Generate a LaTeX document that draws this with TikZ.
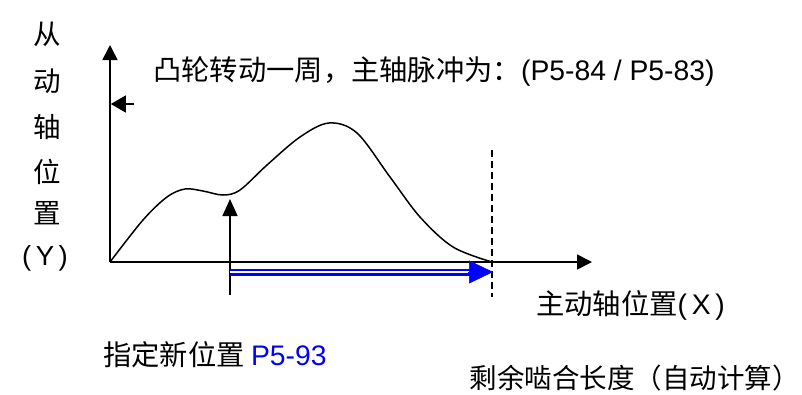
\documentclass[tikz,border=0pt]{standalone}
\usepackage{fontspec}
\setmainfont{Noto Sans CJK SC}
\newfontfamily\latin{Liberation Sans}
\usepackage{tikz}
\usetikzlibrary{arrows.meta,positioning}
\tikzset{
  axis/.style={
    line width=1.6pt,
    -{Triangle[length=15pt,width=15pt]}
  },
  cam/.style={
    line width=1.5pt,
    line join=round
  },
  bluedouble/.style={
    draw=blue,
    double=white,
    double distance=2.6pt,
    line width=2.2pt
  },
  endline/.style={
    line width=1.5pt,
    dash pattern=on 7pt off 4pt
  },
  txt/.style={
    anchor=west,
    inner sep=0pt,
    font=\fontsize{28.3}{30}\selectfont
  },
  vtxt/.style={
    inner sep=0pt,
    font=\fontsize{27.5}{30}\selectfont
  }
}

\begin{document}
\begin{tikzpicture}[x=1pt,y=-1pt]
    \useasboundingbox (0,0) rectangle (802,394);
    % axes
    \coordinate (O) at (110,262);
    \coordinate (ytop) at (110,45);
    \coordinate (xend) at (592,262);
    \draw[axis] (O) -- (ytop);
    \draw[axis] (O) -- (xend);
    % small pointer on the Y axis
    \coordinate (ptail) at (134,104);
    \coordinate (ptip) at (110.8,104);
    \draw[line width=1.5pt,-{Triangle[length=15pt,width=17pt]}] (ptail) -- (ptip);
    % cam curve
    \draw[cam] plot[smooth,tension=0.55] coordinates {(110,262) (143,220) (167,197) (185,189) (203,191) (223,195) (240,190) (267,165) (300,137) (329,123) (357,133) (390,177) (420,217) (453,247) (492,262)};
    % end of engagement
    \coordinate (dtop) at (492,150);
    \coordinate (dbot) at (492,297);
    \draw[endline] (dtop) -- (dbot);
    % new position
    \coordinate (nbot) at (230,295);
    \coordinate (ntip) at (230,199);
    \draw[line width=1.5pt,-{Triangle[length=17pt,width=15pt]}] (nbot) -- (ntip);
    % remaining length
    \coordinate (bstart) at (230,272);
    \coordinate (bbase) at (471,272);
    \coordinate (bend) at (493,272);
    \draw[bluedouble] (bstart) -- (bbase);
    \draw[blue,line width=0.5pt,-{Triangle[length=24pt,width=23pt]}] (bbase) ++(-3,0) -- (bend);
    % texts
    \foreach \ch/\y [count=\i] in {从/34,动/81,轴/127,位/172,置/213}{
    \node[vtxt] (ylab\i) at (47,\y) {\ch};}
    \node[vtxt] (ylab6) at (45,258) {\latin(\,Y\,)};
    \node[txt] (title) at (153,72) {凸轮转动一周，主轴脉冲为：{\latin(P5-84 / P5-83)}};
    \node[txt] (xlab) at (536,305) {主动轴位置{\latin(\,X\,)}};
    \node[txt] (newpos) at (103,355) {指定新位置 \textcolor{blue}{\latin P5-93}};
    \node[txt,anchor=east,font=\fontsize{27.5}{30}\selectfont] (remain) at (800,378) {剩余啮合长度（自动计算）};
\end{tikzpicture}
\end{document}
